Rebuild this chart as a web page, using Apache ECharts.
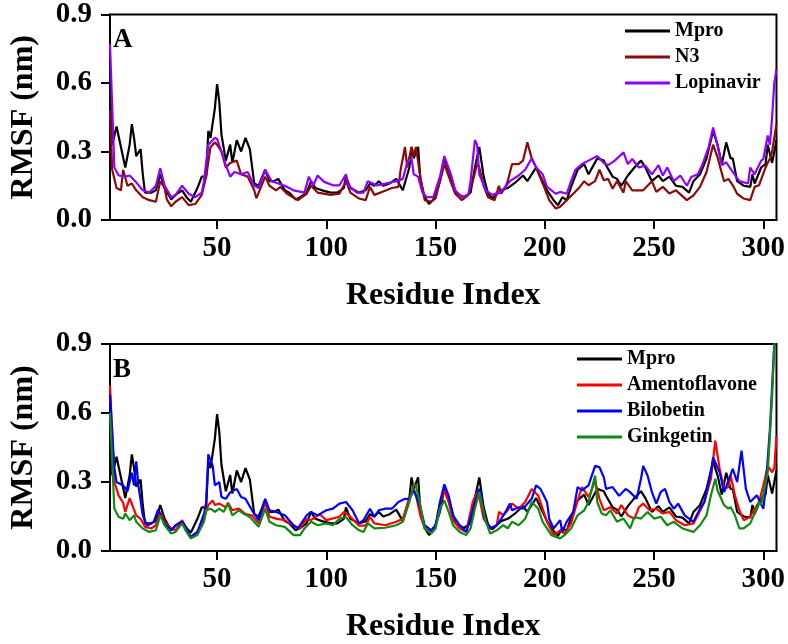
<!DOCTYPE html>
<html>
<head>
<meta charset="utf-8">
<script src="https://cdn.jsdelivr.net/npm/echarts@6/dist/echarts.min.js"></script>
<style>html,body{margin:0;padding:0;background:#fff}#c{width:788px;height:644px}</style>
</head>
<body>
<div id="c"></div>
<script>
// ---- data: [residue index, RMSF (nm)] ----
const xTicks = [50, 100, 150, 200, 250, 300];
const yTicks = [0.0, 0.3, 0.6, 0.9];
const panelA = ['Mpro', 'N3', 'Lopinavir'];
const panelB = ['Mpro', 'Amentoflavone', 'Bilobetin', 'Ginkgetin'];

const mpro = [[1,0.60],[2,0.33],[4,0.41],[6,0.32],[8,0.23],[10,0.33],[11,0.42],[12,0.36],[13,0.28],[15,0.31],[16,0.20],[17,0.12],[20,0.12],[22,0.13],[24,0.20],[26,0.14],[29,0.09],[31,0.11],[34,0.13],[36,0.10],[38,0.08],[41,0.14],[43,0.19],[45,0.19],[46,0.39],[47,0.36],[49,0.49],[50,0.595],[51,0.52],[52,0.375],[54,0.26],[56,0.33],[57,0.25],[59,0.35],[61,0.30],[63,0.36],[65,0.31],[67,0.16],[69,0.15],[72,0.22],[74,0.17],[76,0.17],[78,0.18],[81,0.13],[83,0.12],[86,0.09],[88,0.10],[91,0.12],[93,0.17],[95,0.14],[98,0.13],[102,0.12],[105,0.12],[108,0.14],[109,0.19],[111,0.14],[115,0.12],[118,0.13],[120,0.16],[122,0.15],[124,0.17],[126,0.15],[129,0.16],[132,0.18],[135,0.13],[138,0.23],[139,0.32],[140,0.27],[142,0.32],[143,0.18],[145,0.10],[147,0.07],[149,0.09],[152,0.17],[154,0.27],[157,0.19],[159,0.12],[163,0.10],[166,0.12],[168,0.23],[170,0.32],[172,0.19],[174,0.115],[176,0.095],[180,0.13],[183,0.14],[186,0.16],[190,0.195],[192,0.17],[196,0.23],[198,0.19],[201,0.13],[204,0.087],[206,0.065],[208,0.10],[210,0.087],[212,0.145],[215,0.22],[218,0.245],[220,0.20],[224,0.27],[227,0.26],[228,0.24],[231,0.19],[233,0.18],[235,0.15],[238,0.195],[241,0.23],[244,0.26],[246,0.23],[249,0.17],[252,0.195],[254,0.17],[257,0.19],[260,0.15],[263,0.145],[266,0.12],[268,0.17],[271,0.20],[274,0.27],[277,0.39],[279,0.33],[281,0.245],[283,0.34],[285,0.27],[286,0.27],[288,0.17],[291,0.15],[294,0.145],[295,0.20],[296,0.16],[299,0.23],[301,0.245],[302,0.33],[304,0.25],[306,0.35]];

const n3 = [[1,0.48],[2,0.22],[4,0.14],[6,0.13],[7,0.22],[9,0.15],[11,0.16],[13,0.13],[16,0.10],[19,0.087],[22,0.08],[24,0.17],[26,0.14],[27,0.09],[29,0.06],[31,0.08],[34,0.10],[37,0.065],[40,0.07],[43,0.11],[45,0.19],[47,0.32],[49,0.34],[50,0.33],[52,0.30],[54,0.23],[56,0.25],[59,0.26],[61,0.20],[64,0.19],[67,0.13],[68,0.095],[72,0.19],[74,0.15],[77,0.13],[79,0.145],[82,0.115],[87,0.087],[91,0.115],[93,0.15],[96,0.12],[102,0.11],[106,0.115],[109,0.17],[111,0.12],[115,0.094],[118,0.087],[120,0.145],[122,0.11],[126,0.125],[130,0.14],[133,0.145],[134,0.22],[136,0.32],[137,0.23],[139,0.32],[140,0.28],[141,0.32],[143,0.19],[145,0.087],[148,0.08],[150,0.095],[152,0.17],[154,0.245],[157,0.165],[159,0.115],[162,0.087],[165,0.11],[167,0.17],[169,0.245],[170,0.23],[172,0.15],[174,0.10],[177,0.087],[179,0.15],[180,0.115],[182,0.145],[183,0.17],[185,0.245],[188,0.245],[190,0.26],[192,0.34],[194,0.27],[196,0.23],[199,0.16],[202,0.087],[205,0.05],[207,0.058],[210,0.087],[213,0.115],[216,0.145],[218,0.17],[220,0.152],[223,0.17],[225,0.22],[227,0.174],[229,0.18],[231,0.137],[233,0.17],[236,0.12],[237,0.17],[240,0.13],[245,0.13],[249,0.17],[251,0.123],[254,0.145],[257,0.116],[260,0.13],[265,0.087],[268,0.108],[271,0.145],[274,0.21],[277,0.33],[279,0.275],[282,0.17],[284,0.18],[286,0.152],[288,0.115],[291,0.094],[294,0.087],[296,0.145],[298,0.152],[301,0.23],[303,0.27],[304,0.30],[305,0.36],[306,0.42]];

const lopinavir = [[1,0.77],[3,0.23],[5,0.195],[8,0.19],[10,0.195],[13,0.165],[16,0.13],[19,0.12],[22,0.15],[24,0.227],[26,0.15],[29,0.10],[31,0.11],[34,0.15],[37,0.115],[40,0.10],[43,0.12],[44,0.17],[46,0.33],[48,0.35],[49,0.36],[50,0.355],[52,0.30],[54,0.24],[56,0.19],[58,0.21],[61,0.20],[64,0.21],[67,0.15],[69,0.14],[72,0.22],[75,0.17],[78,0.16],[81,0.15],[85,0.13],[90,0.12],[92,0.19],[94,0.15],[96,0.195],[99,0.167],[103,0.152],[106,0.152],[109,0.20],[110,0.152],[114,0.12],[117,0.12],[119,0.17],[123,0.152],[127,0.159],[132,0.17],[135,0.18],[137,0.25],[139,0.27],[140,0.20],[142,0.19],[144,0.12],[146,0.10],[149,0.10],[152,0.19],[154,0.28],[157,0.20],[159,0.13],[162,0.10],[165,0.11],[166,0.17],[168,0.35],[169,0.33],[170,0.20],[173,0.13],[176,0.11],[180,0.123],[184,0.17],[188,0.195],[191,0.22],[194,0.27],[196,0.23],[199,0.20],[201,0.145],[205,0.115],[207,0.123],[210,0.115],[212,0.17],[214,0.22],[217,0.245],[220,0.26],[224,0.28],[227,0.25],[229,0.24],[232,0.26],[236,0.296],[238,0.245],[240,0.267],[243,0.23],[246,0.238],[249,0.20],[252,0.24],[254,0.195],[256,0.23],[259,0.17],[262,0.195],[265,0.15],[267,0.188],[270,0.20],[272,0.24],[275,0.32],[277,0.405],[279,0.33],[281,0.24],[283,0.253],[285,0.224],[289,0.17],[293,0.16],[294,0.23],[296,0.20],[299,0.26],[300,0.267],[302,0.37],[303,0.33],[304,0.45],[305,0.60],[306,0.66]];

const amentoflavone = [[1,0.72],[3,0.30],[4,0.27],[5,0.24],[7,0.21],[8,0.17],[10,0.23],[13,0.155],[15,0.14],[17,0.105],[20,0.098],[22,0.112],[24,0.17],[26,0.127],[29,0.098],[31,0.09],[34,0.134],[36,0.098],[38,0.055],[41,0.083],[44,0.14],[46,0.20],[48,0.22],[49,0.20],[51,0.206],[54,0.19],[55,0.21],[57,0.177],[60,0.184],[63,0.16],[66,0.155],[69,0.12],[72,0.21],[74,0.149],[77,0.141],[81,0.134],[85,0.11],[88,0.098],[91,0.14],[93,0.134],[97,0.16],[100,0.134],[106,0.149],[108,0.17],[111,0.149],[115,0.11],[118,0.11],[120,0.149],[122,0.12],[127,0.112],[132,0.127],[135,0.14],[138,0.23],[140,0.27],[141,0.242],[143,0.155],[145,0.098],[148,0.083],[150,0.105],[152,0.206],[154,0.263],[156,0.213],[158,0.134],[161,0.098],[164,0.083],[165,0.127],[167,0.213],[169,0.256],[170,0.235],[172,0.14],[175,0.098],[178,0.112],[179,0.17],[181,0.155],[183,0.177],[185,0.206],[188,0.184],[191,0.213],[194,0.27],[197,0.24],[199,0.184],[201,0.127],[204,0.069],[207,0.09],[209,0.076],[212,0.12],[215,0.22],[217,0.278],[220,0.235],[221,0.256],[223,0.306],[225,0.227],[227,0.177],[230,0.19],[233,0.163],[235,0.2],[238,0.155],[241,0.14],[243,0.19],[245,0.206],[248,0.177],[251,0.184],[254,0.163],[257,0.17],[260,0.134],[264,0.112],[268,0.12],[270,0.155],[273,0.213],[276,0.314],[278,0.48],[280,0.357],[282,0.27],[284,0.278],[285,0.328],[287,0.242],[289,0.177],[291,0.134],[294,0.149],[296,0.184],[298,0.213],[300,0.285],[302,0.37],[304,0.342],[305,0.36],[306,0.50]];

const bilobetin = [[1,0.68],[3,0.36],[4,0.30],[7,0.285],[9,0.26],[10,0.30],[11,0.34],[12,0.285],[13,0.39],[14,0.285],[16,0.155],[18,0.11],[21,0.127],[23,0.18],[26,0.12],[29,0.09],[31,0.112],[34,0.127],[36,0.098],[38,0.062],[41,0.083],[44,0.16],[45,0.21],[46,0.42],[48,0.37],[49,0.285],[51,0.30],[52,0.235],[54,0.227],[56,0.255],[59,0.27],[61,0.235],[63,0.227],[66,0.177],[69,0.134],[72,0.227],[74,0.177],[77,0.17],[81,0.155],[85,0.112],[87,0.098],[91,0.155],[93,0.17],[96,0.155],[100,0.177],[103,0.184],[106,0.206],[109,0.213],[112,0.177],[115,0.12],[117,0.134],[120,0.184],[122,0.149],[124,0.177],[127,0.184],[130,0.184],[133,0.213],[136,0.227],[138,0.227],[140,0.263],[141,0.242],[143,0.191],[145,0.112],[148,0.09],[150,0.112],[152,0.213],[154,0.29],[156,0.24],[158,0.155],[161,0.112],[164,0.083],[165,0.112],[167,0.177],[170,0.27],[171,0.242],[172,0.155],[175,0.098],[178,0.112],[180,0.14],[182,0.17],[184,0.206],[185,0.177],[188,0.19],[190,0.184],[194,0.227],[196,0.285],[198,0.27],[201,0.213],[202,0.14],[204,0.098],[207,0.134],[208,0.083],[210,0.127],[213,0.17],[215,0.278],[217,0.264],[220,0.285],[223,0.37],[225,0.364],[227,0.32],[228,0.27],[231,0.278],[234,0.24],[237,0.27],[239,0.256],[242,0.227],[244,0.314],[245,0.37],[247,0.328],[249,0.256],[251,0.206],[253,0.256],[255,0.27],[257,0.213],[259,0.184],[261,0.206],[264,0.155],[268,0.127],[271,0.184],[273,0.213],[276,0.342],[277,0.407],[280,0.342],[282,0.256],[284,0.306],[286,0.357],[288,0.30],[290,0.436],[292,0.27],[294,0.213],[297,0.242],[300,0.184],[301,0.27],[303,0.53],[305,0.90],[306,0.95]];

const ginkgetin = [[1,0.60],[3,0.184],[5,0.148],[7,0.14],[8,0.163],[10,0.134],[12,0.155],[13,0.127],[16,0.098],[19,0.083],[22,0.09],[24,0.155],[26,0.112],[29,0.076],[31,0.083],[34,0.12],[36,0.083],[38,0.055],[41,0.069],[44,0.127],[45,0.177],[47,0.184],[49,0.17],[51,0.184],[53,0.17],[55,0.206],[57,0.155],[60,0.177],[62,0.163],[65,0.148],[67,0.127],[69,0.105],[72,0.184],[74,0.127],[77,0.112],[81,0.105],[85,0.069],[88,0.069],[90,0.098],[93,0.127],[96,0.112],[100,0.12],[103,0.112],[106,0.14],[109,0.148],[112,0.112],[115,0.09],[117,0.083],[119,0.12],[122,0.098],[127,0.101],[132,0.112],[135,0.127],[138,0.213],[140,0.29],[141,0.285],[143,0.2],[145,0.098],[148,0.076],[150,0.098],[152,0.184],[154,0.22],[156,0.17],[158,0.112],[161,0.083],[164,0.069],[166,0.098],[168,0.184],[170,0.256],[171,0.213],[173,0.127],[175,0.076],[178,0.09],[181,0.112],[183,0.098],[185,0.127],[188,0.112],[191,0.14],[194,0.213],[197,0.184],[199,0.127],[203,0.069],[207,0.055],[209,0.069],[212,0.098],[215,0.155],[218,0.177],[220,0.213],[223,0.328],[224,0.213],[226,0.163],[228,0.155],[230,0.177],[233,0.127],[236,0.141],[239,0.098],[241,0.148],[244,0.141],[247,0.17],[250,0.141],[253,0.149],[256,0.112],[259,0.127],[263,0.098],[268,0.083],[271,0.112],[274,0.155],[276,0.242],[278,0.314],[279,0.264],[282,0.2],[284,0.184],[285,0.191],[287,0.155],[289,0.098],[291,0.098],[294,0.12],[296,0.163],[298,0.213],[299,0.2],[302,0.342],[304,0.67],[305,0.90],[306,0.95]];

// ---- styling ----
const FONT = "'Liberation Serif','Times New Roman',serif";
const colors = {Mpro:'#000000', N3:'#8B0A0A', Lopinavir:'#8F00FF', Amentoflavone:'#FF0000', Bilobetin:'#0000FF', Ginkgetin:'#128A12'};

function xAxisCfg(gi){
  return {
    type:'value', gridIndex:gi, min:1, max:306,
    name:'Residue Index', nameLocation:'middle', nameGap:60,
    nameTextStyle:{fontFamily:FONT, fontWeight:'bold', fontSize:32, color:'#000'},
    axisLine:{show:true, lineStyle:{color:'#000', width:2}},
    axisTick:{show:true, length:9, lineStyle:{color:'#000', width:2}, customValues:xTicks},
    axisLabel:{fontFamily:FONT, fontWeight:'bold', fontSize:29, color:'#000', margin:14, customValues:xTicks},
    splitLine:{show:false}
  };
}
function yAxisCfg(gi){
  return {
    type:'value', gridIndex:gi, min:0, max:0.9, interval:0.3,
    name:'RMSF (nm)', nameLocation:'middle', nameGap:70,
    nameTextStyle:{fontFamily:FONT, fontWeight:'bold', fontSize:32, color:'#000'},
    axisLine:{show:true, lineStyle:{color:'#000', width:2}},
    axisTick:{show:true, length:9, lineStyle:{color:'#000', width:2}},
    axisLabel:{fontFamily:FONT, fontWeight:'bold', fontSize:29, color:'#000', margin:18,
      formatter:v=>v.toFixed(1)},
    splitLine:{show:false}
  };
}
function line(name, data, gi){
  return {name, type:'line', xAxisIndex:gi, yAxisIndex:gi, data, showSymbol:false, symbol:'none',
    lineStyle:{color:colors[name], width:2.2}, itemStyle:{color:colors[name]}, clip:true, animation:false};
}
function legendCfg(names, left, top){
  return {
    data:names.map(n=>({name:n, icon:'rect'})), orient:'vertical', left, top, padding:0,
    itemWidth:45, itemHeight:3, itemGap:6,
    textStyle:{fontFamily:FONT, fontWeight:'bold', fontSize:20, color:'#000', lineHeight:20}
  };
}

const chart = echarts.init(document.getElementById('c'), null, {renderer:'canvas'});
chart.setOption({
  animation:false,
  backgroundColor:'#fff',
  title:[
    {text:'A', left:108, top:22, textStyle:{fontFamily:FONT, fontWeight:'bold', fontSize:27, color:'#000'}},
    {text:'B', left:108, top:352, textStyle:{fontFamily:FONT, fontWeight:'bold', fontSize:27, color:'#000'}}
  ],
  legend:[legendCfg(panelA, 625, 21), legendCfg(panelB, 577, 349)],
  grid:[
    {left:104, top:12, width:674, height:208, show:true, borderColor:'#000', borderWidth:2, backgroundColor:'transparent'},
    {left:104, top:344, width:674, height:209, show:true, borderColor:'#000', borderWidth:2, backgroundColor:'transparent'}
  ],
  xAxis:[xAxisCfg(0), xAxisCfg(1)],
  yAxis:[yAxisCfg(0), yAxisCfg(1)],
  series:[
    line('Mpro', mpro, 0), line('N3', n3, 0), line('Lopinavir', lopinavir, 0),
    line('Mpro', mpro, 1), line('Amentoflavone', amentoflavone, 1), line('Bilobetin', bilobetin, 1), line('Ginkgetin', ginkgetin, 1)
  ]
});
</script>
</body>
</html>
